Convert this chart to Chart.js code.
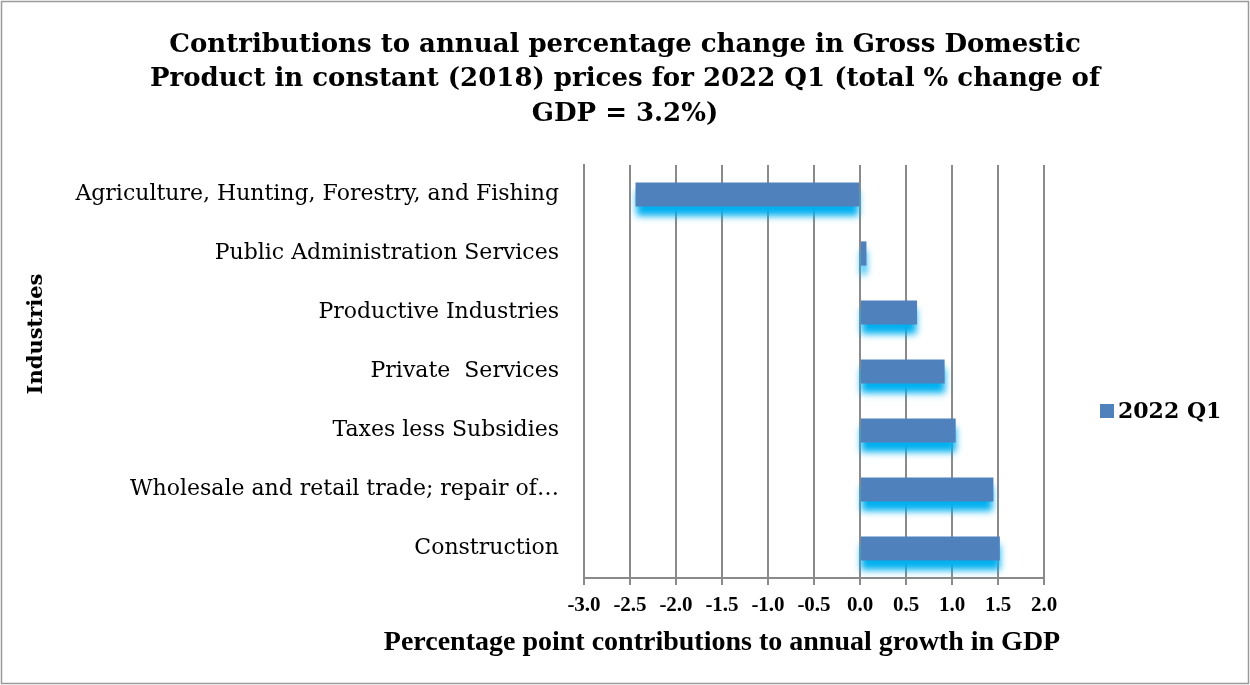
<!DOCTYPE html>
<html>
<head>
<meta charset="utf-8">
<script src="https://cdn.jsdelivr.net/npm/chart.js@4.4.0/dist/chart.umd.min.js"></script>
<style>
  body { margin: 0; background: #fff; }
  #wrap { width: 1250px; height: 685px; }
</style>
</head>
<body>
<div id="wrap"><canvas id="gdpChart" width="1250" height="685"></canvas></div>
<script>
// data
const industries = [
  'Agriculture, Hunting, Forestry, and Fishing',
  'Public Administration Services',
  'Productive Industries',
  'Private  Services',
  'Taxes less Subsidies',
  'Wholesale and retail trade; repair of\u2026',
  'Construction'
];
const contributions = [-2.44, 0.07, 0.62, 0.92, 1.04, 1.45, 1.52];
const seriesName = '2022 Q1';
const titleLines = [
  'Contributions to annual percentage change in Gross Domestic',
  'Product in constant (2018) prices for 2022 Q1 (total % change of',
  'GDP = 3.2%)'
];
const xAxisTitle = 'Percentage point contributions to annual growth in GDP';
const yAxisTitle = 'Industries';
const xMin = -3.0, xMax = 2.0, xStep = 0.5;

const gridGrey = '#8a8a8a';

// white page + thin grey frame round the whole chart
const framePlugin = {
  id: 'frame',
  beforeDraw(chart) {
    const c = chart.ctx;
    c.save();
    c.fillStyle = '#fff';
    c.fillRect(0, 0, chart.width, chart.height);
    c.strokeStyle = '#9a9a9a';
    c.lineWidth = 1.5;
    c.strokeRect(1.5, 1.5, chart.width - 3, chart.height - 3);
    c.restore();
  }
};

// cyan glow under the bars, like the office shadow effect
const barShadow = {
  id: 'barShadow',
  beforeDatasetsDraw(chart) {
    const c = chart.ctx;
    c.save();
    c.shadowColor = '#00b0f0';
    c.shadowBlur = 7;
    c.shadowOffsetX = 0;
    c.shadowOffsetY = 9;
  },
  afterDatasetsDraw(chart) {
    chart.ctx.restore();
  }
};

// title, axis titles and legend sit where the original put them, so draw them by hand
const sideTexts = {
  id: 'sideTexts',
  afterDraw(chart) {
    const c = chart.ctx;
    const ds = chart.data.datasets[0];
    c.save();
    c.fillStyle = '#000';
    c.textAlign = 'center';
    c.textBaseline = 'middle';

    c.font = 'bold 26px "DejaVu Serif"';
    titleLines.forEach((line, i) => c.fillText(line, 625, 45 + i * 34.5));

    c.font = 'bold 28px "Liberation Serif"';
    c.fillText(xAxisTitle, 722, 643);

    // legend
    c.fillStyle = ds.backgroundColor;
    c.fillRect(1100, 404, 14, 14);
    c.fillStyle = '#000';
    c.textAlign = 'left';
    c.font = 'bold 22px "DejaVu Serif"';
    c.fillText(ds.label, 1118, 412);

    c.textAlign = 'center';
    c.translate(37, 334);
    c.rotate(-Math.PI / 2);
    c.font = 'bold 21px "DejaVu Serif"';
    c.fillText(yAxisTitle, 0, 0);
    c.restore();
  }
};

new Chart(document.getElementById('gdpChart'), {
  type: 'bar',
  data: {
    labels: industries,
    datasets: [{
      label: seriesName,
      data: contributions,
      backgroundColor: '#4f81bd',
      borderWidth: 0,
      barPercentage: 0.5,
      categoryPercentage: 0.82
    }]
  },
  options: {
    indexAxis: 'y',
    responsive: false,
    animation: false,
    layout: { padding: { top: 165, right: 206, bottom: 0, left: 0 } },
    plugins: {
      title: { display: false },
      legend: { display: false },
      tooltip: { enabled: false }
    },
    scales: {
      x: {
        min: xMin,
        max: xMax,
        ticks: {
          stepSize: xStep,
          color: '#000',
          padding: 8,
          font: { family: '"Liberation Serif"', size: 21, weight: 'bold' },
          callback: v => Number(v).toFixed(1)
        },
        grid: { color: gridGrey, lineWidth: 2, tickLength: 7 },
        border: { color: gridGrey, width: 2 },
        afterFit(scale) { scale.height = 107; }
      },
      y: {
        ticks: {
          color: '#000',
          padding: 17,
          font: { family: '"DejaVu Serif"', size: 22 }
        },
        grid: { display: false },
        border: { color: gridGrey, width: 2 },
        afterFit(scale) { scale.width = 584; }
      }
    }
  },
  plugins: [framePlugin, barShadow, sideTexts]
});
</script>
</body>
</html>
